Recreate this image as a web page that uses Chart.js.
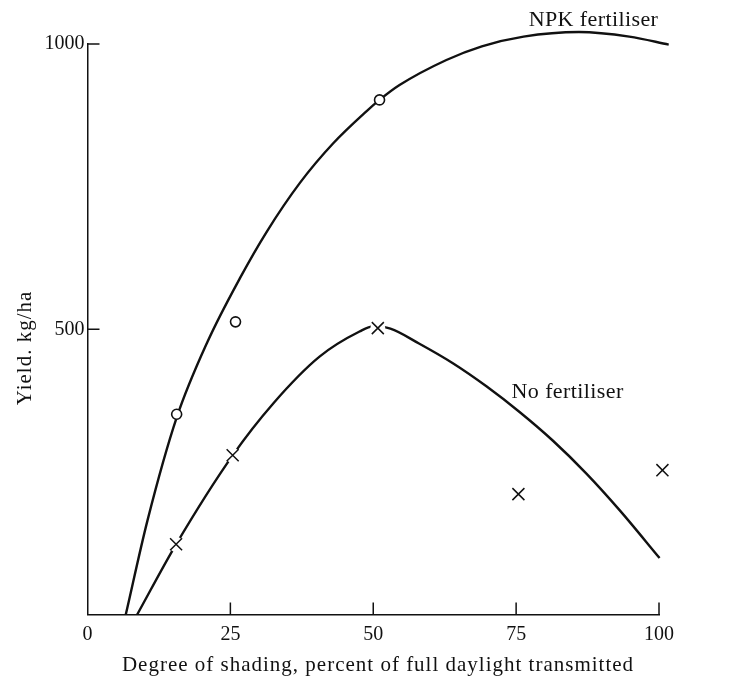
<!DOCTYPE html>
<html>
<head>
<meta charset="utf-8">
<script src="https://cdn.jsdelivr.net/npm/chart.js@4.4.1/dist/chart.umd.min.js"></script>
<style>
  html, body { margin: 0; padding: 0; background: #fff; }
  #wrap { width: 745px; height: 681px; position: relative; }
</style>
</head>
<body>
<div id="wrap"><canvas id="c" width="745" height="681"></canvas></div>
<script>
// Observed points (circles: NPK fertiliser; crosses: no fertiliser)
const npkX = [15.6, 25.9, 51.1, 76.3, 101.7];
const npkY = [351, 513, 902, 1016, 999];
const noX  = [15.5, 25.4, 50.8, 75.4, 100.6];
const noY  = [123, 279, 502, 211, 253];

// Fitted curves
const npkCurveX = [6.7, 10.5, 15.6, 21.0, 26.7, 31.3, 37.2, 43.0, 48.8, 51.1, 54.6, 62.8, 69.0, 76.3, 86.0, 94.8, 101.7];
const npkCurveY = [0, 165, 345, 478, 590, 670, 757, 826, 882, 902, 928, 972, 996, 1013, 1021, 1013, 999];
const noCurveX  = [8.7, 15.5, 25.4, 32.5, 40.6, 47.6, 50.0, 53.0, 58.0, 64.0, 69.8, 75.6, 81.4, 87.3, 93.1, 100.1];
const noCurveY  = [0, 123, 279, 370, 452, 496, 505, 501, 475, 440, 400, 355, 305, 247, 183, 99];

// Axis ticks and texts
const xTicks = [0, 25, 50, 75, 100];
const yTicks = [500, 1000];
const xTitle = 'Degree of shading, percent of full daylight transmitted';
const yTitle = 'Yield. kg/ha';
const npkLabel = 'NPK fertiliser';
const noLabel = 'No fertiliser';

const FONT = '"Liberation Serif", "Times New Roman", serif';
const INK = '#111';

function pts(xs, ys) { return xs.map((x, i) => ({ x: x, y: ys[i] })); }

const decor = {
  id: 'decor',
  afterDraw(chart) {
    const ctx = chart.ctx;
    const xs = chart.scales.x, ys = chart.scales.y;
    const ca = chart.chartArea;
    ctx.save();
    ctx.strokeStyle = INK;
    ctx.lineWidth = 1.5;
    // inward ticks on x axis
    xTicks.forEach(v => {
      if (v === 0) return;
      const px = xs.getPixelForValue(v);
      ctx.beginPath();
      ctx.moveTo(px, ca.bottom);
      ctx.lineTo(px, ca.bottom - 12);
      ctx.stroke();
    });
    // inward ticks on y axis
    yTicks.forEach(v => {
      const py = ys.getPixelForValue(v);
      ctx.beginPath();
      ctx.moveTo(ca.left, py);
      ctx.lineTo(ca.left + 12, py);
      ctx.stroke();
    });
    // curve labels
    ctx.fillStyle = INK;
    ctx.font = '22px ' + FONT;
    ctx.textBaseline = 'alphabetic';
    ctx.textAlign = 'left';
    if ('letterSpacing' in ctx) ctx.letterSpacing = '0.4px';
    ctx.fillText(npkLabel, xs.getPixelForValue(77.2), ys.getPixelForValue(1032));
    ctx.fillText(noLabel, xs.getPixelForValue(74.2), ys.getPixelForValue(380));
    // axis titles
    ctx.font = '21px ' + FONT;
    if ('letterSpacing' in ctx) ctx.letterSpacing = '1px';
    ctx.textAlign = 'center';
    ctx.fillText(xTitle, 378, 671);
    ctx.save();
    ctx.translate(31, 348);
    ctx.rotate(-Math.PI / 2);
    ctx.font = '21px ' + FONT;
    if ('letterSpacing' in ctx) ctx.letterSpacing = '1px';
    ctx.fillText(yTitle, 0, 0);
    ctx.restore();
    ctx.restore();
  }
};

new Chart(document.getElementById('c'), {
  type: 'scatter',
  data: {
    datasets: [
      {
        label: 'NPK curve', type: 'line', data: pts(npkCurveX, npkCurveY),
        borderColor: INK, borderWidth: 2.4, pointRadius: 0, fill: false,
        cubicInterpolationMode: 'monotone', clip: false, order: 4
      },
      {
        label: 'No fert curve', type: 'line', data: pts(noCurveX, noCurveY),
        borderColor: INK, borderWidth: 2.4, pointRadius: 0, fill: false,
        cubicInterpolationMode: 'monotone', clip: false, order: 4
      },
      {
        label: 'halo', data: pts(noX, noY),
        pointStyle: 'circle', pointRadius: 7.5, pointBackgroundColor: '#fff',
        pointBorderWidth: 0, pointBorderColor: 'rgba(0,0,0,0)', clip: false, order: 2
      },
      {
        label: 'NPK fertiliser', data: pts(npkX, npkY),
        pointStyle: 'circle', pointRadius: 5, pointBackgroundColor: '#fff',
        pointBorderColor: INK, pointBorderWidth: 1.6, clip: false, order: 1
      },
      {
        label: 'No fertiliser', data: pts(noX, noY),
        pointStyle: 'crossRot', pointRadius: 8.5, pointBackgroundColor: INK,
        pointBorderColor: INK, pointBorderWidth: 1.5, clip: false, order: 1
      }
    ]
  },
  options: {
    responsive: false,
    animation: false,
    devicePixelRatio: 1,
    layout: { padding: { top: 44, right: 86, left: 0, bottom: 0 } },
    plugins: { legend: { display: false }, tooltip: { enabled: false } },
    scales: {
      x: {
        type: 'linear', min: 0, max: 100,
        afterBuildTicks: s => { s.ticks = xTicks.map(v => ({ value: v })); },
        afterFit: s => { s.height = 66.5; },
        grid: { display: false, drawTicks: false },
        border: { display: true, color: INK, width: 1.5 },
        ticks: { color: INK, font: { family: FONT, size: 20 }, padding: 8, maxRotation: 0,
                 callback: v => String(v) }
      },
      y: {
        type: 'linear', min: 0, max: 1000,
        afterBuildTicks: s => { s.ticks = yTicks.map(v => ({ value: v })); },
        afterFit: s => { s.width = 87.5; },
        grid: { display: false, drawTicks: false },
        border: { display: true, color: INK, width: 1.5 },
        ticks: { color: INK, font: { family: FONT, size: 20 }, padding: 3,
                 callback: v => String(v) }
      }
    }
  },
  plugins: [decor]
});
</script>
</body>
</html>
